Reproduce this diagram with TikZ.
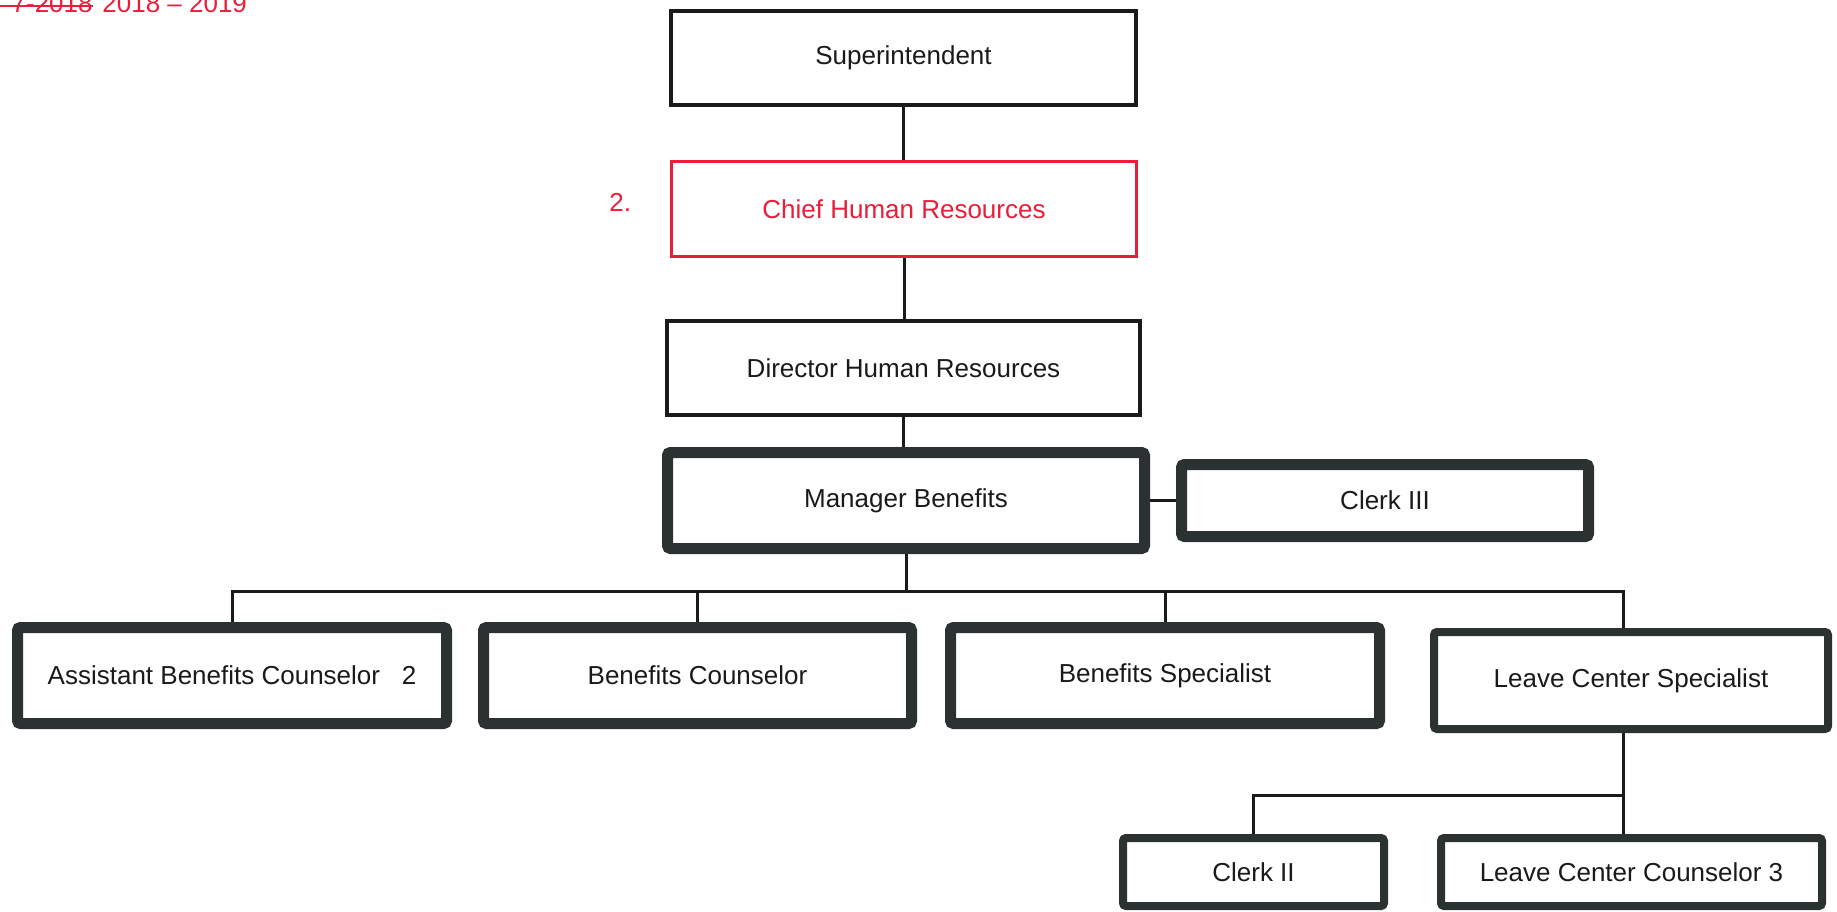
\documentclass[tikz,border=0pt]{standalone}
\usepackage{fontspec}
\setmainfont{Liberation Sans}
\definecolor{redc}{RGB}{232,30,58}
\definecolor{ink}{RGB}{26,26,26}
\definecolor{thickc}{RGB}{44,50,50}
\begin{document}
\begin{tikzpicture}[x=0.5pt,y=-0.5pt,
  every node/.style={font=\fontsize{13}{15.6}\selectfont, text=ink, inner sep=0pt, align=center},
  thinbox/.style={draw=ink, line width=2pt, fill=white},
  redbox/.style={draw=redc, line width=1.5pt, fill=white, text=redc},
  fatbox/.style={draw=thickc, line width=5.5pt, rounded corners=1.5pt, fill=white},
  midbox/.style={draw=thickc, line width=4pt, rounded corners=1.5pt, fill=white},
  conn/.style={draw=ink, line width=1.5pt},
  redtext/.style={text=redc}]
\useasboundingbox (0,0) rectangle (1837,911);
\fill[white] (0,0) rectangle (1837,911);

% top-left note
\node[redtext, anchor=base east] (old) at (93,12) {7-2018};
\coordinate (s1) at (0,6);
\draw[redc, line width=1.1pt] (s1) -- (s1 -| old.east);
\node[redtext, anchor=base west] (new) at (102,12) {2018 – 2019};
\node[redtext, anchor=base west] (two) at (609,211) {2.};

% boxes
\node[thinbox, minimum width=232.5pt, minimum height=47pt] (sup) at (903.5,58) {Superintendent};
\node[redbox, minimum width=232.5pt, minimum height=47.5pt] (chief) at (904,209) {Chief Human Resources};
\node[thinbox, minimum width=236.5pt, minimum height=47pt] (dir) at (903.5,368) {Director Human Resources};
\node[fatbox, minimum width=238.5pt, minimum height=48pt] (mgr) at (906,500.5) {Manager Benefits};
\node[fatbox, minimum width=203.5pt, minimum height=36pt] (clk3) at (1385,500.5) {Clerk III};
\node[fatbox, minimum width=214.5pt, minimum height=48pt] (abc) at (232,675.5) {Assistant Benefits Counselor~~~2};
\node[fatbox, minimum width=214pt, minimum height=48pt] (bc) at (697.5,675.5) {Benefits Counselor};
\node[fatbox, minimum width=214.5pt, minimum height=48pt] (bs) at (1165,675.5) {Benefits Specialist};
\node[midbox, minimum width=197pt, minimum height=48.5pt] (lcs) at (1631,680.5) {Leave Center Specialist};
\node[midbox, minimum width=130.5pt, minimum height=34pt] (clk2) at (1253.5,872) {Clerk II};
\node[midbox, minimum width=190.5pt, minimum height=34pt] (lcc) at (1631.5,872) {Leave Center Counselor 3};

% connectors
\coordinate (busL) at (232,591);
\coordinate (busR) at (1623,591);
\coordinate (br) at (1623,795);
\draw[conn] (sup.south) -- (sup.south |- chief.north);
\draw[conn] (chief.south) -- (chief.south |- dir.north);
\draw[conn] (dir.south) -- (dir.south |- mgr.north);
\draw[conn] (mgr.east) -- (clk3.west);
\draw[conn] (mgr.south) -- (mgr.south |- busL);
\draw[conn] (abc.north) |- (busR) -- (busR |- lcs.north);
\draw[conn] (bc.north) -- (bc.north |- busL);
\draw[conn] (bs.north) -- (bs.north |- busL);
\draw[conn] (busR |- lcs.south) -- (busR |- lcc.north);
\draw[conn] (clk2.north) |- (br);
\end{tikzpicture}
\end{document}
